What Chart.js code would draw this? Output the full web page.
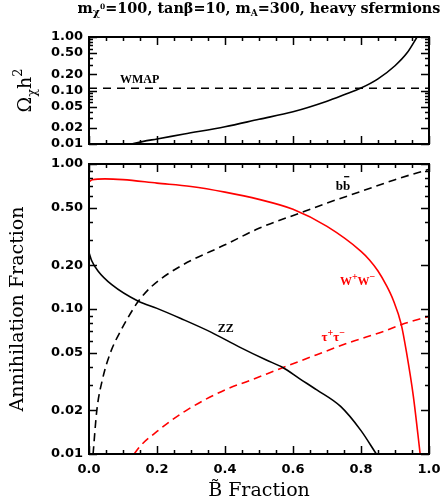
<!DOCTYPE html>
<html>
<head>
<meta charset="utf-8">
<script src="https://cdn.jsdelivr.net/npm/chart.js@4.4.0/dist/chart.umd.min.js"></script>
<style>
html, body { margin: 0; padding: 0; background: #fff; }
#wrap { position: relative; width: 443px; height: 502px; }
canvas { position: absolute; left: 0; top: 0; }
</style>
</head>
<body>
<div id="wrap">
  <canvas id="omegaChart" width="443" height="502"></canvas>
  <canvas id="fracChart" width="443" height="502"></canvas>
</div>
<script>
// relic density vs bino fraction (top panel)
const omegaBino = [0.126, 0.16, 0.2, 0.28, 0.4, 0.5, 0.6, 0.7, 0.75, 0.8, 0.85, 0.9, 0.935, 0.965];
const omegaVals = [0.010, 0.0112, 0.0124, 0.0154, 0.021, 0.029, 0.040, 0.063, 0.083, 0.111, 0.165, 0.29, 0.50, 1.0];
const wmapLevel = 0.11;

// annihilation fractions (bottom panel)
const bbBino = [0.012, 0.023, 0.04, 0.063, 0.095, 0.13, 0.145, 0.184, 0.27, 0.4, 0.5, 0.62, 0.7, 0.8, 0.9, 1.0];
const bbVals = [0.010, 0.020, 0.033, 0.050, 0.072, 0.100, 0.113, 0.143, 0.198, 0.277, 0.36, 0.459, 0.538, 0.647, 0.78, 0.92];

const zzBino = [0, 0.008, 0.027, 0.067, 0.145, 0.2, 0.27, 0.36, 0.44, 0.52, 0.57, 0.62, 0.67, 0.74, 0.8, 0.845];
const zzVals = [0.245, 0.215, 0.182, 0.147, 0.113, 0.101, 0.086, 0.069, 0.055, 0.0446, 0.0395, 0.033, 0.0277, 0.0213, 0.0145, 0.010];

const wwBino = [0, 0.01, 0.047, 0.1, 0.2, 0.3, 0.4, 0.5, 0.6, 0.7, 0.8, 0.825, 0.85, 0.875, 0.895, 0.918, 0.934, 0.954, 0.974];
const wwVals = [0.755, 0.778, 0.79, 0.78, 0.738, 0.70, 0.64, 0.57, 0.487, 0.371, 0.25, 0.218, 0.183, 0.145, 0.115, 0.079, 0.050, 0.025, 0.010];

const tauBino = [0.133, 0.15, 0.2, 0.282, 0.4, 0.474, 0.571, 0.67, 0.768, 0.866, 0.918, 1.0];
const tauVals = [0.010, 0.0113, 0.0143, 0.0197, 0.0277, 0.0322, 0.0395, 0.0484, 0.059, 0.070, 0.078, 0.089];

const yTickVals = [0.01, 0.02, 0.05, 0.1, 0.2, 0.5, 1];
const xTickVals = [0, 0.2, 0.4, 0.6, 0.8, 1.0];

const RED = '#ff0000';
const SERIF = '"DejaVu Serif", serif';
const TIMES = '"Liberation Serif", serif';
const SANS = '"DejaVu Sans", sans-serif';

const pts = (xs, ys) => xs.map((x, i) => ({ x: x, y: ys[i] }));

// draws text made of pieces (sub/superscripts, overbars)
function richText(ctx, x, y, segs, opts) {
  const weight = opts.weight || 'normal';
  const family = opts.family || SERIF;
  const size = opts.size;
  let total = 0;
  segs.forEach(s => {
    ctx.font = `${weight} ${s.size || size}px ${family}`;
    s.w = ctx.measureText(s.t).width;
    total += s.w;
  });
  let cx = opts.align === 'center' ? x - total / 2 : x;
  ctx.fillStyle = opts.color || '#000';
  ctx.textBaseline = 'alphabetic';
  ctx.textAlign = 'left';
  segs.forEach(s => {
    ctx.font = `${weight} ${s.size || size}px ${family}`;
    ctx.fillText(s.t, cx, y + (s.dy || 0));
    if (s.bar) {
      ctx.save();
      ctx.strokeStyle = opts.color || '#000';
      ctx.lineWidth = 1.3;
      ctx.beginPath();
      ctx.moveTo(cx + 1, y - size * 1.0);
      ctx.lineTo(cx + s.w - 1, y - size * 1.0);
      ctx.stroke();
      ctx.restore();
    }
    cx += s.w;
  });
}

// box with inward ticks on all four sides
const framePlugin = {
  id: 'frame',
  afterDatasetsDraw(chart) {
    const { ctx, chartArea: a, scales } = chart;
    const x = scales.x, y = scales.y;
    ctx.save();
    ctx.strokeStyle = '#000';
    ctx.lineWidth = 1.5;
    ctx.beginPath();
    for (let k = 0; k <= 20; k++) {
      const px = Math.round(x.getPixelForValue(k / 20)) + 0.5;
      const len = k % 4 === 0 ? 8 : 4;
      ctx.moveTo(px, a.bottom); ctx.lineTo(px, a.bottom - len);
      ctx.moveTo(px, a.top); ctx.lineTo(px, a.top + len);
    }
    [0.01, 0.1].forEach(d => {
      for (let k = 1; k <= 10; k++) {
        const v = +(k * d).toFixed(3);
        if (v > 1) continue;
        const py = Math.round(y.getPixelForValue(v)) + 0.5;
        const len = yTickVals.some(t => Math.abs(t - v) < 1e-9) ? 8 : 4;
        ctx.moveTo(a.left, py); ctx.lineTo(a.left + len, py);
        ctx.moveTo(a.right, py); ctx.lineTo(a.right - len, py);
      }
    });
    ctx.stroke();
    ctx.lineWidth = 2;
    ctx.strokeRect(a.left, a.top, a.right - a.left, a.bottom - a.top);
    ctx.restore();
  }
};

// labels placed in data coordinates + axis titles
const textPlugin = {
  id: 'texts',
  afterDraw(chart, args, opts) {
    const { ctx, chartArea: a, scales } = chart;
    ctx.save();
    (opts.labels || []).forEach(l => {
      richText(ctx, scales.x.getPixelForValue(l.x), scales.y.getPixelForValue(l.y), l.segs,
        { size: l.size, weight: 'bold', color: l.color, family: TIMES });
    });
    if (opts.title) {
      richText(ctx, (a.left + a.right) / 2, opts.title.y, opts.title.segs,
        { size: opts.title.size, weight: 'bold', align: 'center' });
    }
    if (opts.yTitle) {
      ctx.save();
      ctx.translate(opts.yTitle.x, (a.top + a.bottom) / 2);
      ctx.rotate(-Math.PI / 2);
      richText(ctx, 0, 0, opts.yTitle.segs, { size: opts.yTitle.size, align: 'center' });
      ctx.restore();
    }
    if (opts.xTitle) {
      richText(ctx, (a.left + a.right) / 2, opts.xTitle.y, opts.xTitle.segs,
        { size: opts.xTitle.size, align: 'center' });
    }
    ctx.restore();
  }
};

function yScale(width) {
  return {
    type: 'logarithmic', min: 0.01, max: 1,
    grid: { display: false, drawTicks: false },
    border: { display: false },
    afterBuildTicks: s => { s.ticks = yTickVals.map(v => ({ value: v })); },
    afterFit: s => { s.width = width; s.paddingTop = 0; s.paddingBottom = 0; },
    ticks: {
      autoSkip: false, padding: 6, color: '#000',
      font: { family: SANS, size: 13, weight: 'bold' },
      callback: v => Number(v).toFixed(2)
    }
  };
}

function xScale(height, showLabels) {
  return {
    type: 'linear', min: 0, max: 1,
    grid: { display: false, drawTicks: false }, border: { display: false },
    afterBuildTicks: s => { s.ticks = xTickVals.map(v => ({ value: v })); },
    afterFit: s => { s.height = height; s.paddingLeft = 0; s.paddingRight = 0; },
    ticks: {
      display: showLabels, autoSkip: false, padding: 8, color: '#000', maxRotation: 0,
      font: { family: SANS, size: 13, weight: 'bold' },
      callback: v => Number(v).toFixed(1)
    }
  };
}

const common = {
  responsive: false, animation: false, events: [],
  elements: { point: { radius: 0 }, line: { borderWidth: 1.6, cubicInterpolationMode: 'monotone' } }
};

new Chart(document.getElementById('omegaChart'), {
  type: 'line',
  data: {
    datasets: [
      { data: pts(omegaBino, omegaVals), borderColor: '#000' },
      { data: [{ x: 0, y: wmapLevel }, { x: 1, y: wmapLevel }], borderColor: '#000', borderDash: [8, 6], borderWidth: 1.5 }
    ]
  },
  options: Object.assign({}, common, {
    layout: { padding: { top: 37, right: 14, left: 0, bottom: 0 } },
    plugins: {
      legend: { display: false }, tooltip: { enabled: false },
      texts: {
        title: {
          y: 13, size: 14.4,
          segs: [{ t: 'm' }, { t: 'χ', size: 11, dy: 3 }, { t: '0', size: 7.5, dy: -4 },
                 { t: '=100, tan' }, { t: 'β' }, { t: '=10, m' }, { t: 'A', size: 9, dy: 3 },
                 { t: '=300, heavy sfermions' }]
        },
        yTitle: { x: 31, size: 19, segs: [{ t: 'Ω' }, { t: 'χ', size: 13, dy: 5 }, { t: 'h' }, { t: '2', size: 13, dy: -9 }] },
        labels: [{ x: 0.091, y: 0.138, size: 12, segs: [{ t: 'WMAP' }] }]
      }
    },
    scales: {
      x: xScale(502 - 144, false),
      y: yScale(89)
    }
  }),
  plugins: [framePlugin, textPlugin]
});

new Chart(document.getElementById('fracChart'), {
  type: 'line',
  data: {
    datasets: [
      { data: pts(wwBino, wwVals), borderColor: RED },
      { data: pts(bbBino, bbVals), borderColor: '#000', borderDash: [8, 5] },
      { data: pts(zzBino, zzVals), borderColor: '#000' },
      { data: pts(tauBino, tauVals), borderColor: RED, borderDash: [8, 5] }
    ]
  },
  options: Object.assign({}, common, {
    layout: { padding: { top: 164, right: 14, left: 0, bottom: 0 } },
    plugins: {
      legend: { display: false }, tooltip: { enabled: false },
      texts: {
        yTitle: { x: 23, size: 19, segs: [{ t: 'Annihilation Fraction' }] },
        xTitle: { y: 496, size: 19, segs: [{ t: 'B\u0303 Fraction' }] },
        labels: [
          { x: 0.726, y: 0.665, size: 13, segs: [{ t: 'b' }, { t: 'b', bar: true }] },
          { x: 0.738, y: 0.1455, size: 12, color: RED, segs: [{ t: 'W' }, { t: '+', size: 10, dy: -5 }, { t: 'W' }, { t: '−', size: 10, dy: -5 }] },
          { x: 0.684, y: 0.0598, size: 13, color: RED, segs: [{ t: 'τ' }, { t: '+', size: 10, dy: -5 }, { t: 'τ' }, { t: '−', size: 10, dy: -5 }] },
          { x: 0.379, y: 0.0697, size: 12, segs: [{ t: 'ZZ' }] }
        ]
      }
    },
    scales: {
      x: xScale(502 - 454, true),
      y: yScale(89)
    }
  }),
  plugins: [framePlugin, textPlugin]
});
</script>
</body>
</html>
